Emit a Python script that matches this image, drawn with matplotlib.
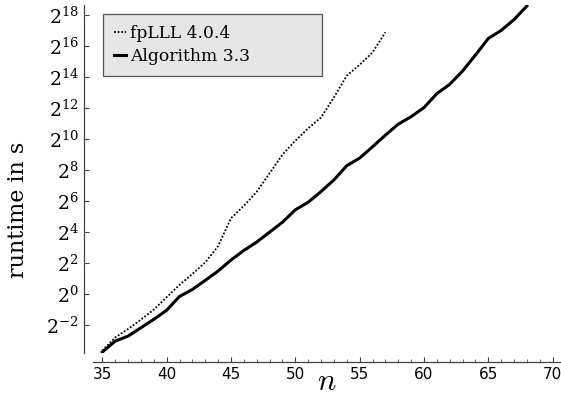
import numpy as np
import matplotlib
matplotlib.use("Agg")
import matplotlib.pyplot as plt
from matplotlib.ticker import FixedLocator, MultipleLocator, FuncFormatter

# lattice dimension
n_fplll = np.arange(35, 58)
n_alg = np.arange(35, 69)

# log2 of the runtime in seconds
log2_fplll = [-3.65, -2.8, -2.25, -1.65, -1.0, -0.2, 0.6, 1.3, 2.05, 3.1,
              4.9, 5.7, 6.6, 7.8, 9.0, 9.9, 10.7, 11.4, 12.7, 14.1,
              14.8, 15.6, 16.9]
log2_alg = [-3.74, -3.03, -2.71, -2.17, -1.63, -1.04, -0.15, 0.3, 0.89, 1.49,
            2.2, 2.82, 3.36, 4.0, 4.64, 5.44, 5.93, 6.62, 7.37, 8.29,
            8.78, 9.51, 10.26, 10.97, 11.45, 12.04, 12.94, 13.54, 14.4, 15.43,
            16.5, 17.02, 17.72, 18.6]

y_exponents = list(range(-2, 19, 2))

plt.rcParams["mathtext.fontset"] = "dejavuserif"

fig = plt.figure(figsize=(5.61, 4.18), dpi=100)
ax = fig.add_axes([0.1663, 0.1562, 0.8337, 0.8318])

ax.plot(n_fplll, 2.0 ** np.array(log2_fplll), color="black", lw=1.3,
        linestyle=(0, (1, 1)), label="fpLLL 4.0.4")
ax.plot(n_alg, 2.0 ** np.array(log2_alg), color="black", lw=2.2,
        label="Algorithm 3.3")

ax.set_yscale("log", base=2)
ax.set_xlim(34.3, 70.65)
ax.set_ylim(2.0 ** -3.78, 2.0 ** 18.66)

ax.yaxis.set_major_locator(FixedLocator([2.0 ** k for k in y_exponents]))
ax.yaxis.set_minor_locator(FixedLocator([]))
ax.yaxis.set_major_formatter(FuncFormatter(
    lambda v, pos: r"$2^{%d}$" % round(np.log2(v))))
ax.xaxis.set_major_locator(MultipleLocator(5))
ax.xaxis.set_minor_locator(MultipleLocator(1))

for side in ("top", "right"):
    ax.spines[side].set_visible(False)
for side in ("left", "bottom"):
    ax.spines[side].set_position(("outward", 6.5))
    ax.spines[side].set_color("#444444")
    ax.spines[side].set_linewidth(0.9)

ax.tick_params(axis="both", which="both", direction="in", color="#444444")
ax.tick_params(axis="y", which="major", length=3.5, width=0.8, pad=4,
               labelsize=13.5)
ax.tick_params(axis="x", which="major", length=3.5, width=0.8, pad=4,
               labelsize=11)
ax.tick_params(axis="x", which="minor", length=2, width=0.6)

ax.set_xlabel(r"$n$", fontsize=22, labelpad=-11, math_fontfamily="cm")
ax.set_ylabel("runtime in s", fontsize=16, family="DejaVu Serif")
ax.yaxis.set_label_coords(-0.138, 0.41)

leg = ax.legend(loc="upper left", bbox_to_anchor=(0.021, 0.975, 0.468, 0.0),
                mode="expand", fancybox=False, framealpha=1,
                handlelength=0.7, handletextpad=0.2, borderaxespad=0,
                borderpad=0.65, labelspacing=0.35,
                prop={"family": "DejaVu Serif", "size": 12.3})
leg.get_frame().set_facecolor("#e6e6e6")
leg.get_frame().set_edgecolor("#555555")
leg.get_frame().set_linewidth(0.9)

fig.savefig("out.png", dpi=100)
